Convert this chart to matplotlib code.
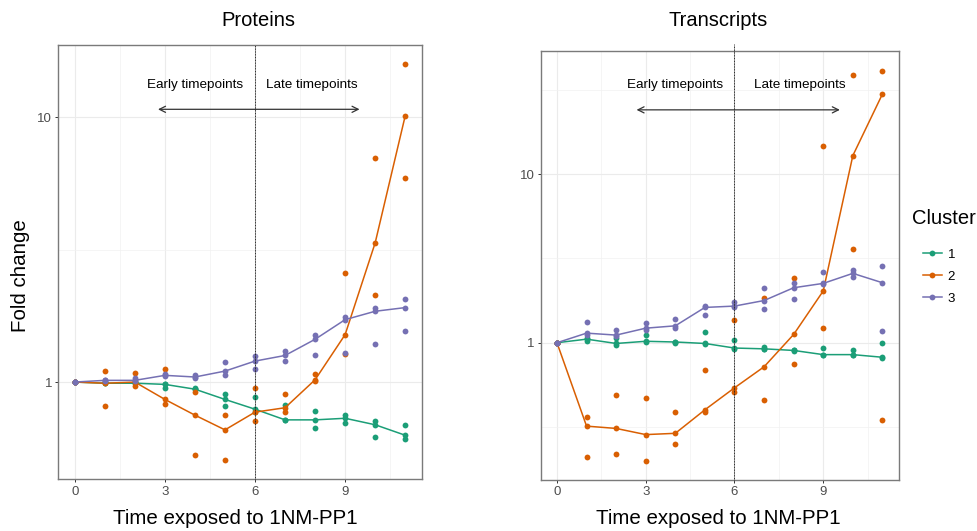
import numpy as np
import matplotlib
matplotlib.use("Agg")
import matplotlib.pyplot as plt
from matplotlib.lines import Line2D
from matplotlib.ticker import FixedLocator, NullFormatter
import matplotlib.transforms as mtransforms

plt.rcParams['font.family'] = ['Liberation Sans', 'DejaVu Sans']

# time points (hours exposed to 1NM-PP1)
time = np.arange(12)

# fold change, three replicates per time point, per cluster
prot_c1 = [[1, 1, 1], [1.0, 0.99, 0.99], [1.0, 0.99, 0.99], [0.98, 0.98, 0.95],
           [0.95, 0.94, 0.94], [0.90, 0.86, 0.81], [0.88, 0.79, 0.77], [0.82, 0.72, 0.72],
           [0.78, 0.72, 0.67], [0.75, 0.73, 0.70], [0.71, 0.69, 0.62], [0.69, 0.63, 0.61]]
prot_c2 = [[1, 1, 1], [1.10, 0.99, 0.81], [1.08, 1.00, 0.97], [1.12, 0.86, 0.83],
           [0.92, 0.75, 0.53], [0.75, 0.66, 0.51], [0.95, 0.77, 0.71], [0.90, 0.80, 0.77],
           [1.07, 1.02, 1.01], [2.59, 1.51, 1.28], [7.0, 3.35, 2.13], [15.8, 10.1, 5.87]]
prot_c3 = [[1, 1, 1], [1.02, 1.015, 1.01], [1.04, 1.015, 1.01], [1.07, 1.06, 1.05],
           [1.06, 1.045, 1.035], [1.19, 1.10, 1.06], [1.25, 1.20, 1.12], [1.31, 1.26, 1.20],
           [1.50, 1.45, 1.26], [1.76, 1.72, 1.29], [1.91, 1.85, 1.39], [2.06, 1.91, 1.56]]

tx_c1 = [[1, 1, 1], [1.06, 1.05, 1.02], [1.07, 0.99, 0.97], [1.11, 1.02, 1.01],
         [1.01, 1.01, 1.00], [1.16, 0.99, 0.98], [1.04, 0.93, 0.92], [0.94, 0.92, 0.92],
         [0.91, 0.90, 0.89], [0.93, 0.85, 0.84], [0.91, 0.85, 0.84], [0.99, 0.82, 0.81]]
tx_c2 = [[1, 1, 1], [0.36, 0.32, 0.21], [0.49, 0.31, 0.22], [0.47, 0.285, 0.20],
         [0.39, 0.29, 0.25], [0.69, 0.40, 0.39], [1.36, 0.54, 0.51], [1.84, 0.72, 0.46],
         [2.41, 1.12, 0.75], [14.7, 2.03, 1.23], [38.7, 12.9, 3.6], [41.1, 29.9, 0.35]]
tx_c3 = [[1, 1, 1], [1.32, 1.14, 1.11], [1.19, 1.11, 1.10], [1.31, 1.22, 1.19],
         [1.38, 1.26, 1.22], [1.66, 1.62, 1.46], [1.75, 1.65, 1.63], [2.12, 1.78, 1.59],
         [2.27, 2.12, 1.83], [2.64, 2.25, 2.22], [2.70, 2.58, 2.47], [2.86, 2.27, 1.18]]

cluster_labels = ['1', '2', '3']
colors = ['#1B9E77', '#D95F02', '#7570B3']

W, H = 978, 531
fig = plt.figure(figsize=(W / 100, H / 100), dpi=100)

def px_box(x0, y0, x1, y1):
    return [x0 / W, 1 - y1 / H, (x1 - x0) / W, (y1 - y0) / H]

ax1 = fig.add_axes(px_box(58.3, 44.7, 421.7, 479.3))
ax2 = fig.add_axes(px_box(540.7, 51.3, 898.7, 480.0))

def draw_panel(ax, clusters, arrow_x, arrow_y, text_y, early_x, late_x, vtop):
    allv = []
    for reps, col in zip(clusters, colors):
        reps = np.array(reps, dtype=float)
        allv.append(reps.ravel())
        for j in range(reps.shape[1]):
            ax.plot(time, reps[:, j], 'o', color=col, ms=4.2, mec='none', zorder=3)
        ax.plot(time, np.median(reps, axis=1), '-', color=col, lw=1.1, zorder=3)
    allv = np.concatenate(allv)
    lo, hi = np.log10(allv.min()), np.log10(allv.max())
    pad = (hi - lo) * 0.05
    ax.set_yscale('log')
    ax.set_ylim(10 ** (lo - pad), 10 ** (hi + pad))
    ax.set_xlim(-0.55, 11.55)

    ax.xaxis.set_major_locator(FixedLocator([0, 3, 6, 9]))
    ax.xaxis.set_minor_locator(FixedLocator([1.5, 4.5, 7.5, 10.5]))
    ax.yaxis.set_major_locator(FixedLocator([1, 10]))
    ax.set_yticklabels(['1', '10'])
    ax.yaxis.set_minor_locator(FixedLocator([10 ** -0.5, 10 ** 0.5, 10 ** 1.5]))
    ax.yaxis.set_minor_formatter(NullFormatter())
    ax.grid(which='major', color='#EBEBEB', lw=0.8)
    ax.grid(which='minor', color='#F2F2F2', lw=0.5)
    ax.set_axisbelow(True)
    ax.tick_params(which='major', length=2.5, width=0.7, color='#333333',
                   labelcolor='#4D4D4D', labelsize=9.5, pad=2)
    ax.tick_params(which='minor', length=0)
    for s in ax.spines.values():
        s.set_color('#7A7A7A')
        s.set_linewidth(1.0)

    trans = mtransforms.blended_transform_factory(ax.transData, ax.transAxes)
    ax.plot([6, 6], [0, vtop], transform=trans, color='#222222', lw=0.7,
            ls=(0, (1, 0.6)), clip_on=False, zorder=4)

    ax.annotate('', xy=(arrow_x[0], arrow_y), xytext=(arrow_x[1], arrow_y),
                arrowprops=dict(arrowstyle='<->', color='#333333', lw=0.9,
                                mutation_scale=11, shrinkA=0, shrinkB=0))
    ax.text(early_x, text_y, 'Early timepoints', ha='center', va='center', fontsize=9.7)
    ax.text(late_x, text_y, 'Late timepoints', ha='center', va='center', fontsize=9.7)

draw_panel(ax1, [prot_c1, prot_c2, prot_c3], (2.77, 9.48), 10.7, 13.2, 4.0, 7.9, 1.0)
draw_panel(ax2, [tx_c1, tx_c2, tx_c3], (2.69, 9.56), 24.1, 33.8, 4.0, 8.2, 1.017)

fig.text(258 / W, 1 - 20 / H, 'Proteins', ha='center', va='center', fontsize=14.5)
fig.text(718 / W, 1 - 21 / H, 'Transcripts', ha='center', va='center', fontsize=14.5)
fig.text(235 / W, 1 - 519 / H, 'Time exposed to 1NM-PP1', ha='center', va='center', fontsize=14.8)
fig.text(718 / W, 1 - 519 / H, 'Time exposed to 1NM-PP1', ha='center', va='center', fontsize=14.8)
fig.text(21 / W, 1 - 276 / H, 'Fold change', ha='center', va='center', rotation=90, fontsize=14.8)

fig.text(912 / W, 1 - 219 / H, 'Cluster', ha='left', va='center', fontsize=14.5)
handles = [Line2D([0], [0], color=c, lw=1.1, marker='o', ms=4.2, mec='none') for c in colors]
leg = fig.legend(handles, cluster_labels, loc='upper left',
                 bbox_to_anchor=(912 / W, 1 - 238 / H), frameon=False, fontsize=9.5,
                 handlelength=1.45, handletextpad=0.45, labelspacing=0.75,
                 borderpad=0.3)

fig.savefig('out.png', dpi=100)
